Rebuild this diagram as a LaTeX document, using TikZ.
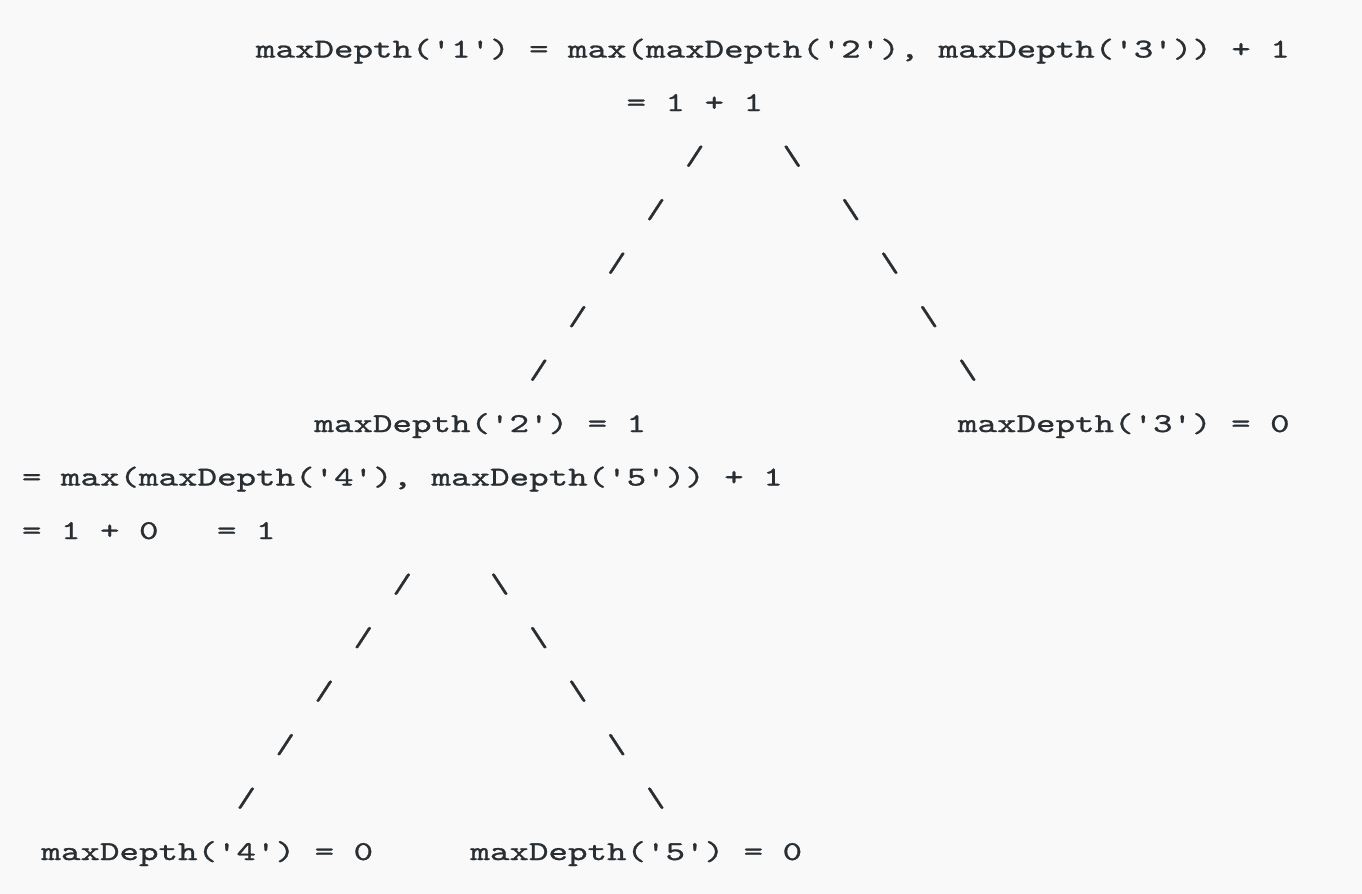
\documentclass[tikz,border=0pt]{standalone}
\usepackage{fontspec}
\setmonofont{lmmono10-regular.otf}[FakeStretch=1.366,FakeBold=1.0]
\definecolor{bgc}{RGB}{249,249,249}
\definecolor{txt}{RGB}{41,46,51}
\tikzset{
  ln/.style={inner sep=0pt, outer sep=0pt, anchor=base west, text=txt,
    font=\ttfamily\fontsize{13.6}{16}\selectfont},
}
\newcommand{\bs}{\textbackslash}
\begin{document}
\begin{tikzpicture}[x=0.5pt,y=-0.5pt]
\fill[bgc] (0,0) rectangle (1362,894);
\useasboundingbox (0,0) rectangle (1362,894);
% column c -> x = 22 + 19.5 c ; baselines every 53.5 px
\begin{scope}[yshift=-0.75pt]
\node[ln] (n1)  at ({22+19.5*12},56)    {maxDepth('1') = max(maxDepth('2'), maxDepth('3')) + 1};
\node[ln] (n1b) at ({22+19.5*31},109.5) {= 1 + 1};
% upper slashes
\node[ln] (a1l) at ({22+19.5*34},163)   {/};
\node[ln] (a1r) at ({22+19.5*39},163)   {\bs};
\node[ln] (a2l) at ({22+19.5*32},216.5) {/};
\node[ln] (a2r) at ({22+19.5*42},216.5) {\bs};
\node[ln] (a3l) at ({22+19.5*30},270)   {/};
\node[ln] (a3r) at ({22+19.5*44},270)   {\bs};
\node[ln] (a4l) at ({22+19.5*28},323.5) {/};
\node[ln] (a4r) at ({22+19.5*46},323.5) {\bs};
\node[ln] (a5l) at ({22+19.5*26},377)   {/};
\node[ln] (a5r) at ({22+19.5*48},377)   {\bs};
% level 2
\node[ln] (n2)  at ({22+19.5*15},430.5) {maxDepth('2') = 1};
\node[ln] (n3)  at ({22+19.5*48},430.5) {maxDepth('3') = 0};
\node[ln] (n2b) at (22,484)             {= max(maxDepth('4'), maxDepth('5')) + 1};
\node[ln] (n2c) at (22,537.5)           {= 1 + 0};
\node[ln] (n2d) at ({22+19.5*10},537.5) {= 1};
% lower slashes
\node[ln] (b1l) at ({22+19.5*19},591)   {/};
\node[ln] (b1r) at ({22+19.5*24},591)   {\bs};
\node[ln] (b2l) at ({22+19.5*17},644.5) {/};
\node[ln] (b2r) at ({22+19.5*26},644.5) {\bs};
\node[ln] (b3l) at ({22+19.5*15},698)   {/};
\node[ln] (b3r) at ({22+19.5*28},698)   {\bs};
\node[ln] (b4l) at ({22+19.5*13},751.5) {/};
\node[ln] (b4r) at ({22+19.5*30},751.5) {\bs};
\node[ln] (b5l) at ({22+19.5*11},805)   {/};
\node[ln] (b5r) at ({22+19.5*32},805)   {\bs};
% leaves
\node[ln] (n4)  at ({22+19.5*1},858.5)  {maxDepth('4') = 0};
\node[ln] (n5)  at ({22+19.5*23},858.5) {maxDepth('5') = 0};
\end{scope}
\end{tikzpicture}
\end{document}
